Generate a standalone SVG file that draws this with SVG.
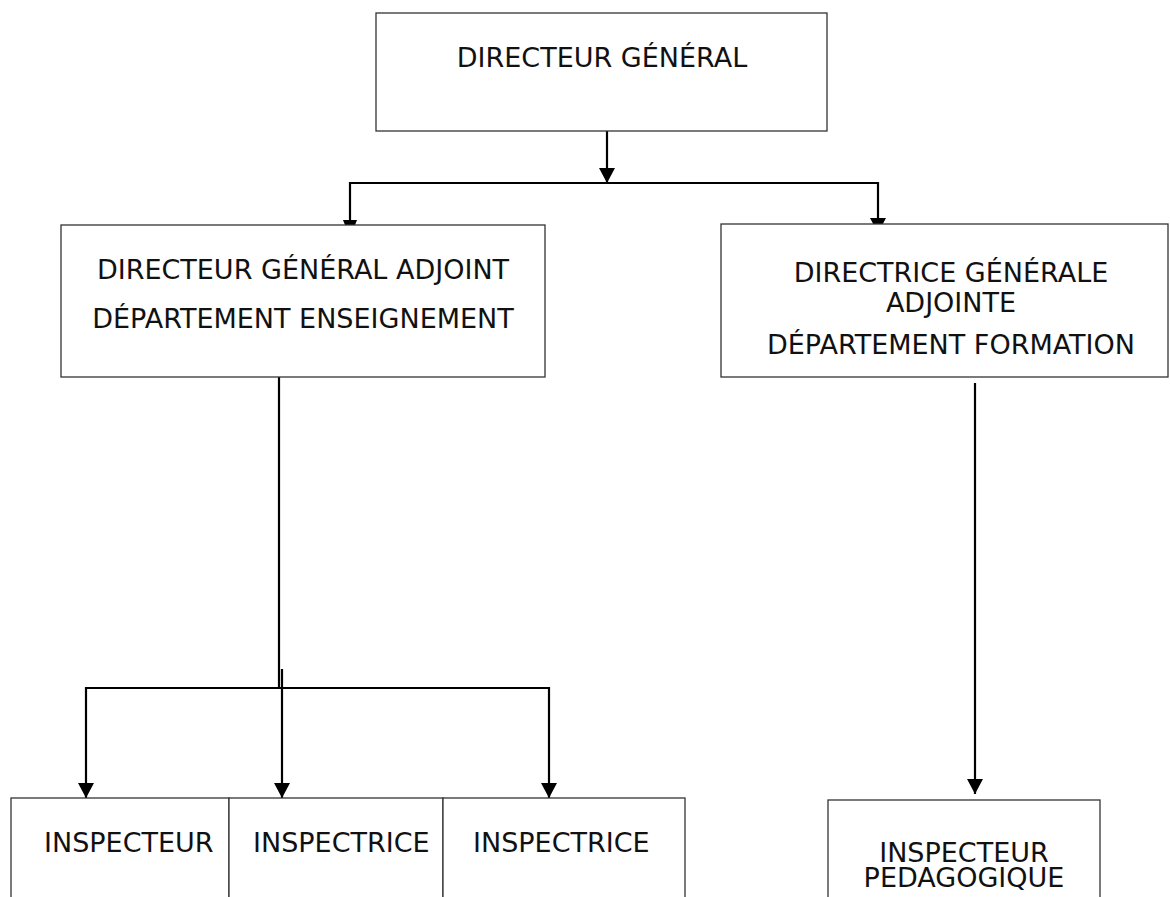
<svg xmlns="http://www.w3.org/2000/svg" width="1170" height="897" viewBox="0 0 1170 897">
<defs>
<style>
.box{fill:#fff;stroke:#333;stroke-width:1.3}
.t{font-family:"DejaVu Sans",Verdana,sans-serif;font-size:27px;fill:#111}
.c{text-anchor:middle}
.ln{fill:none;stroke:#000;stroke-width:2.2}
</style>
<marker id="ah" markerUnits="userSpaceOnUse" markerWidth="16" markerHeight="16" viewBox="0 0 16 16" refX="15" refY="8" orient="auto">
<path d="M0,0 L15,8 L0,16 Z" fill="#000"/>
</marker>
<marker id="flat" markerUnits="userSpaceOnUse" markerWidth="6" markerHeight="16" viewBox="0 0 6 16" refX="5" refY="8" orient="auto">
<path d="M0,1 L5,3 L5,13 L0,15 Z" fill="#000"/>
</marker>
</defs>
<rect width="1170" height="897" fill="#fff"/>
<g id="connectors">
<line class="ln" x1="607" y1="131" x2="607" y2="183" marker-end="url(#ah)"/>
<line class="ln" x1="350" y1="183" x2="878" y2="183"/>
<line class="ln" x1="350" y1="182" x2="350" y2="225" marker-end="url(#flat)"/>
<line class="ln" x1="878" y1="182" x2="878" y2="233" marker-end="url(#ah)"/>
<line class="ln" x1="279" y1="377" x2="279" y2="688"/>
<line class="ln" x1="86" y1="688" x2="549" y2="688"/>
<line class="ln" x1="86" y1="687" x2="86" y2="798" marker-end="url(#ah)"/>
<line class="ln" x1="282" y1="669" x2="282" y2="798" marker-end="url(#ah)"/>
<line class="ln" x1="549" y1="687" x2="549" y2="798" marker-end="url(#ah)"/>
<line class="ln" x1="975" y1="383" x2="975" y2="794" marker-end="url(#ah)"/>
</g>
<g id="dg">
<rect class="box" x="376" y="13" width="451" height="118"/>
<text class="t c" x="602" y="67">DIRECTEUR GÉNÉRAL</text>
</g>
<g id="dga">
<rect class="box" x="61" y="225" width="484" height="152"/>
<text class="t c" x="303" y="279">DIRECTEUR GÉNÉRAL ADJOINT</text>
<text class="t c" x="303" y="328">DÉPARTEMENT ENSEIGNEMENT</text>
</g>
<g id="dgaf">
<rect class="box" x="721" y="224" width="447" height="153"/>
<text class="t c" x="951" y="282">DIRECTRICE GÉNÉRALE</text>
<text class="t c" x="951" y="312">ADJOINTE</text>
<text class="t c" x="951" y="354">DÉPARTEMENT FORMATION</text>
</g>
<g id="insp1">
<rect class="box" x="11" y="798" width="218" height="110"/>
<text class="t" x="44" y="852">INSPECTEUR</text>
</g>
<g id="insp2">
<rect class="box" x="229" y="798" width="214" height="110"/>
<text class="t" x="253" y="852">INSPECTRICE</text>
</g>
<g id="insp3">
<rect class="box" x="443" y="798" width="242" height="110"/>
<text class="t" x="473" y="852">INSPECTRICE</text>
</g>
<g id="inspped">
<rect class="box" x="828" y="800" width="272" height="110"/>
<text class="t c" x="964" y="862">INSPECTEUR</text>
<text class="t c" x="964" y="887">PEDAGOGIQUE</text>
</g>
</svg>
